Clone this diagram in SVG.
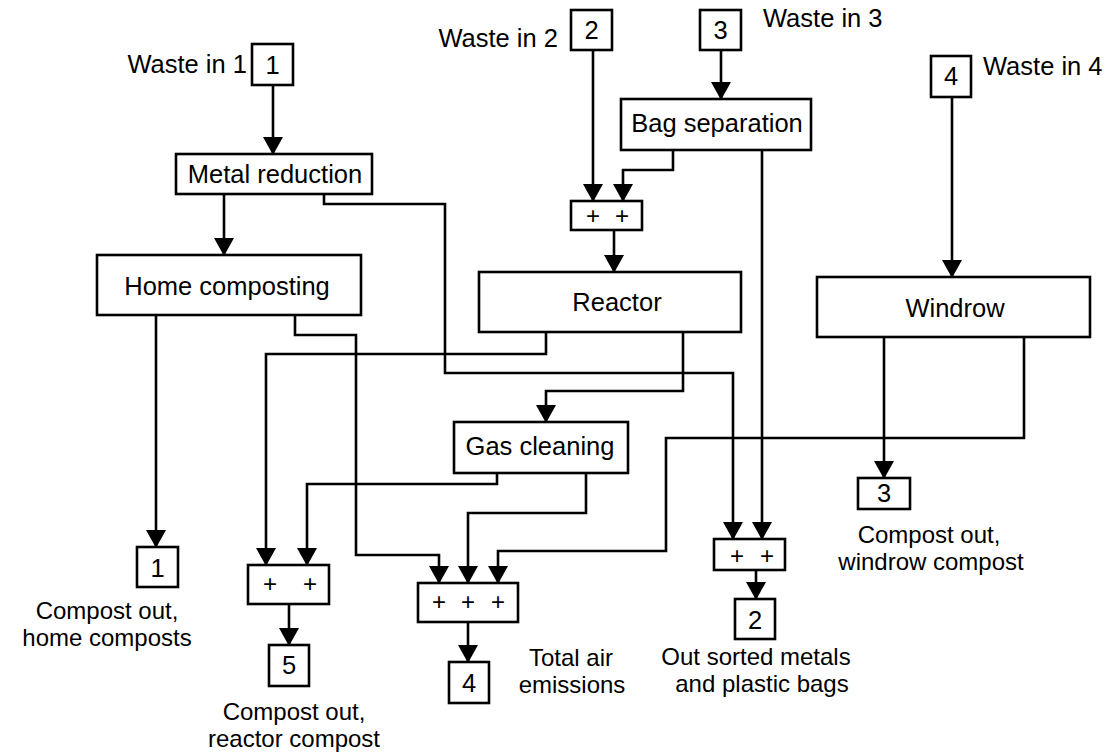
<svg xmlns="http://www.w3.org/2000/svg" width="1113" height="753" viewBox="0 0 1113 753">
<style>
.box{fill:#fff;stroke:#000;stroke-width:2.6}
.t{font-family:"Liberation Sans",Arial,sans-serif;font-size:25.5px;fill:#000}
.l{font-family:"Liberation Sans",Arial,sans-serif;font-size:24px;fill:#000;text-anchor:middle}
.m{text-anchor:middle}
.e{text-anchor:end}
.p{font-family:"Liberation Sans",Arial,sans-serif;font-size:24px;fill:#000;text-anchor:middle}
.c{fill:none;stroke:#000;stroke-width:2.6;marker-end:url(#ah)}
</style>
<defs>
<marker id="ah" viewBox="0 0 18 20" markerWidth="18" markerHeight="20" refX="17" refY="10" orient="auto" markerUnits="userSpaceOnUse">
<path d="M0 0 L18 10 L0 20 z" fill="#000"/>
</marker>
</defs>
<rect width="1113" height="753" fill="#fff"/>
<g id="connectors">
<path class="c" d="M273 85 V154"/>
<path class="c" d="M224 194 V255"/>
<path class="c" d="M324 194 V204 H445 V373 H733 V539"/>
<path class="c" d="M593 50 V201"/>
<path class="c" d="M721 50 V99"/>
<path class="c" d="M673 150 V170 H623 V201"/>
<path class="c" d="M762 150 V539"/>
<path class="c" d="M614 230 V272"/>
<path class="c" d="M952 97 V277"/>
<path class="c" d="M156 315 V547"/>
<path class="c" d="M295 315 V335 H356 V555 H439 V583"/>
<path class="c" d="M546 332 V354 H266 V565"/>
<path class="c" d="M683 332 V391 H546 V422"/>
<path class="c" d="M497 473 V484 H307 V565"/>
<path class="c" d="M586 473 V513 H468 V583"/>
<path class="c" d="M884 337 V478"/>
<path class="c" d="M1024 337 V438 H666 V551 H498 V583"/>
<path class="c" d="M289 604 V645"/>
<path class="c" d="M468 622 V662"/>
<path class="c" d="M756 570 V599"/>
</g>
<g id="in1"><rect class="box" x="252" y="44" width="41" height="41"/><text class="t m" x="272.5" y="74">1</text><text class="t e" x="247" y="73">Waste in 1</text></g>
<g id="in2"><rect class="box" x="571" y="10" width="41" height="40"/><text class="t m" x="591.5" y="39">2</text><text class="t e" x="558" y="47">Waste in 2</text></g>
<g id="in3"><rect class="box" x="700" y="10" width="41" height="40"/><text class="t m" x="720.5" y="39">3</text><text class="t" x="763" y="27">Waste in 3</text></g>
<g id="in4"><rect class="box" x="931" y="56" width="40" height="41"/><text class="t m" x="951" y="85">4</text><text class="t" x="983" y="75">Waste in 4</text></g>
<g id="metal"><rect class="box" x="176" y="154" width="196" height="40"/><text class="t m" x="275" y="183">Metal reduction</text></g>
<g id="bag"><rect class="box" x="621" y="99" width="190" height="51"/><text class="t m" x="717" y="132">Bag separation</text></g>
<g id="sumr"><rect class="box" x="571" y="201" width="71" height="29"/><text class="p" x="593" y="224">+</text><text class="p" x="622" y="224">+</text></g>
<g id="home"><rect class="box" x="97" y="255" width="264" height="60"/><text class="t m" x="227" y="295">Home composting</text></g>
<g id="reactor"><rect class="box" x="479" y="272" width="262" height="60"/><text class="t m" x="617" y="311">Reactor</text></g>
<g id="windrow"><rect class="box" x="817" y="277" width="273" height="60"/><text class="t m" x="955" y="317">Windrow</text></g>
<g id="gas"><rect class="box" x="454" y="422" width="174" height="51"/><text class="t m" x="540" y="455">Gas cleaning</text></g>
<g id="out1"><rect class="box" x="137" y="547" width="41" height="40"/><text class="t m" x="157.5" y="577">1</text><text class="l" x="107" y="619">Compost out,</text><text class="l" x="107" y="646">home composts</text></g>
<g id="sum5"><rect class="box" x="248" y="565" width="81" height="39"/><text class="p" x="270" y="592">+</text><text class="p" x="310" y="592">+</text></g>
<g id="out5"><rect class="box" x="269" y="645" width="40" height="41"/><text class="t m" x="289" y="674">5</text><text class="l" x="294" y="720">Compost out,</text><text class="l" x="294" y="747">reactor compost</text></g>
<g id="sum4"><rect class="box" x="418" y="583" width="100" height="39"/><text class="p" x="439" y="610">+</text><text class="p" x="468" y="610">+</text><text class="p" x="498" y="610">+</text></g>
<g id="out4"><rect class="box" x="449" y="662" width="40" height="41"/><text class="t m" x="469" y="692">4</text><text class="l" x="571" y="666">Total air</text><text class="l" x="572" y="693">emissions</text></g>
<g id="sum2"><rect class="box" x="714" y="539" width="71" height="31"/><text class="p" x="737" y="564">+</text><text class="p" x="767" y="564">+</text></g>
<g id="out2"><rect class="box" x="735" y="599" width="40" height="40"/><text class="t m" x="755" y="629">2</text><text class="l" x="756" y="665">Out sorted metals</text><text class="l" x="762" y="692">and plastic bags</text></g>
<g id="out3"><rect class="box" x="858" y="478" width="52" height="31"/><text class="t m" x="884" y="502">3</text><text class="l" x="929" y="543">Compost out,</text><text class="l" x="931" y="570">windrow compost</text></g>
</svg>
